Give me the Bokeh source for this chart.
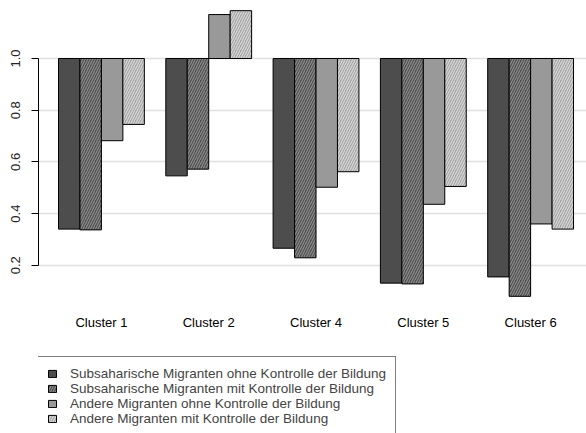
from bokeh.plotting import figure
from bokeh.models import (Range1d, FixedTicker, Legend, LegendItem, ColumnDataSource,
                          NumeralTickFormatter)
from bokeh.core.properties import value
from bokeh.embed import file_html
from bokeh.resources import INLINE

clusters = ["Cluster 1", "Cluster 2", "Cluster 4", "Cluster 5", "Cluster 6"]
series = [
    "Subsaharische Migranten ohne Kontrolle der Bildung",
    "Subsaharische Migranten mit Kontrolle der Bildung",
    "Andere Migranten ohne Kontrolle der Bildung",
    "Andere Migranten mit Kontrolle der Bildung",
]
subs_ohne = [0.340, 0.546, 0.266, 0.131, 0.155]
subs_mit = [0.337, 0.572, 0.229, 0.128, 0.080]
andere_ohne = [0.682, 1.170, 0.502, 0.436, 0.360]
andere_mit = [0.745, 1.185, 0.562, 0.505, 0.340]
y_ticks = [0.2, 0.4, 0.6, 0.8, 1.0]
baseline = 1.0

values = [subs_ohne, subs_mit, andere_ohne, andere_mit]
fills = ["#4d4d4d", "#4d4d4d", "#999999", "#a3a3a3"]
hatches = [None, "#8c8c8c", None, "#d9d9d9"]

FONT = "Liberation Sans"

p = figure(width=586, height=433, output_backend="svg", toolbar_location=None,
           x_range=Range1d(0.068, 25.604), y_range=Range1d(-0.4507, 1.2244))
p.min_border_left = 38
p.min_border_right = 0
p.min_border_top = 0
p.min_border_bottom = 0
p.outline_line_color = None
p.xaxis.visible = False
p.xgrid.visible = False
p.background_fill_color = "white"
p.border_fill_color = "white"

ax = p.yaxis[0]
ax.ticker = FixedTicker(ticks=y_ticks)
ax.formatter = NumeralTickFormatter(format="0.0")
ax.bounds = (0.2, 1.0)
ax.major_tick_out = 7
ax.major_tick_in = 0
ax.minor_tick_line_color = None
ax.axis_line_color = "black"
ax.major_tick_line_color = "black"
ax.major_label_orientation = "vertical"
ax.major_label_text_font = FONT
ax.major_label_text_font_size = "13px"
ax.major_label_text_color = "#222222"
ax.major_label_standoff = 11

p.ygrid.ticker = FixedTicker(ticks=y_ticks)
p.ygrid.grid_line_color = "#e0e0e0"
p.ygrid.grid_line_width = 1.5

items = []
n = len(series)
for i in range(n):
    xs = [1 + g * (n + 1) + i + 0.5 for g in range(len(clusters))]
    src = ColumnDataSource(dict(x=xs, top=values[i], bottom=[baseline] * len(xs)))
    kw = {}
    if hatches[i]:
        kw = dict(hatch_pattern="/", hatch_color=hatches[i], hatch_scale=5, hatch_weight=1.2)
    r = p.vbar(x="x", top="top", bottom="bottom", width=1.0, source=src,
               fill_color=fills[i], line_color="black", line_width=1, **kw)
    items.append(LegendItem(label=series[i], renderers=[r]))

centers = [1 + g * (n + 1) + n / 2 for g in range(len(clusters))]
label_y = -0.0213
p.text(x=centers, y=[label_y] * len(centers), text=clusters,
       text_font=value(FONT), text_font_size="13px", text_align="center",
       text_baseline="middle", text_color="black")

legend = Legend(items=items, location=(-1, -3))
legend.border_line_color = "black"
legend.border_line_width = 1
legend.background_fill_color = "white"
legend.background_fill_alpha = 1
legend.label_text_font = FONT
legend.label_text_font_size = "13.5px"
legend.glyph_width = 10
legend.glyph_height = 9
legend.label_standoff = 13
legend.label_height = 15
legend.spacing = -2
legend.padding = 9
legend.margin = 0
p.add_layout(legend)

open("out.html", "w").write(file_html(p, INLINE))
